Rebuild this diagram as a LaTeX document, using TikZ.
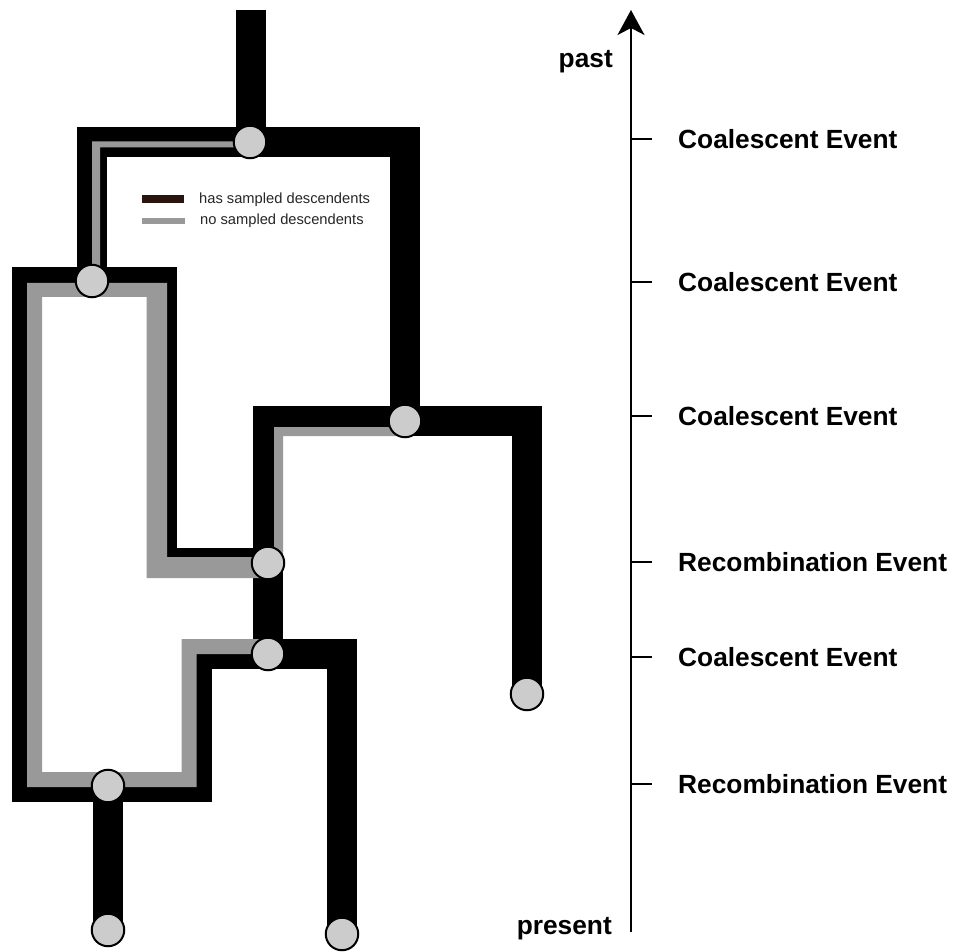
\documentclass[tikz,border=0pt]{standalone}
\usepackage{fontspec}
\setmainfont{Liberation Sans}
\usetikzlibrary{arrows.meta,backgrounds}
\definecolor{nodegray}{HTML}{CCCCCC}
\definecolor{stripegray}{HTML}{999999}
\definecolor{legendbrown}{HTML}{2A140E}
\begin{document}
\begin{tikzpicture}[x=1pt,y=-1pt,
  tube/.style={line width=30pt, line join=miter, draw=black},
  stripe/.style={fill=stripegray, draw=none},
  event/.style={circle, draw=black, line width=2pt, fill=nodegray, minimum size=32.5pt, inner sep=0pt},
  tickmark/.style={line width=2.2pt, draw=black},
  evlabel/.style={anchor=base west, font=\fontsize{26.3}{30}\selectfont\bfseries, inner sep=0pt},
  axlabel/.style={anchor=base east, font=\fontsize{26.3}{30}\selectfont\bfseries, inner sep=0pt},
  legtext/.style={anchor=base west, font=\fontsize{14.7}{17}\selectfont, inner sep=0pt, text=black!85}
]
\useasboundingbox (0,0) rectangle (954,952);

% event nodes
\node[event] (c1) at (250,142) {};
\node[event] (c2) at (92,281) {};
\node[event] (c3) at (405,421) {};
\node[event] (c4) at (268,563) {};
\node[event] (c5) at (268,654) {};
\node[event] (c6) at (108,786) {};
\node[event] (l1) at (108,930) {};
\node[event] (l2) at (342,934) {};
\node[event] (l3) at (527,694) {};
\coordinate (root) at (251,10);

\begin{scope}[on background layer]
  % black lineages
  \draw[tube] (root) -- (root |- c1.center);
  \draw[tube] (c2.center) |- (c3.center |- c1.center) -- (c3.center);
  \draw[tube] (c4.center) -- ++(-106.5,0) |- (27,282) |- (196.5,787) |- (c5.center);
  \draw[tube] (c5.center) -- (c4.center) |- (c3.center) -| (l3.center);
  \draw[tube] (c5.center) -| (l2.center);
  \draw[tube] (c6.center) -- (l1.center);
  % lineages with no sampled descendents
  \fill[stripe] (c1.center |- 0,141.5) -- (92,141.5) -- (92,281) -- (100,281) -- (100,147.5) -- (c1.center |- 0,147.5) -- cycle;
  \fill[stripe] (27,283) -- (167,283) -- (167,557) -- (268,557) -- (268,578) -- (146.5,578) -- (146.5,297) -- (42,297) -- (42,772) -- (181.5,772) -- (181.5,639) -- (268,639) -- (268,654) -- (196.5,654) -- (196.5,787) -- (27,787) -- cycle;
  \fill[stripe] (405,427) -- (274,427) -- (274,563) -- (283,563) -- (283,436) -- (405,436) -- cycle;
\end{scope}

% legend
\fill[legendbrown] (142,195) rectangle (184,203);
\fill[stripegray] (142,218.5) rectangle (185,224.5);
\node[legtext] (lg1) at (199,203.5) {has sampled descendents};
\node[legtext] (lg2) at (200,224.5) {no sampled descendents};

% time axis
\coordinate (axbot) at (631,932);
\coordinate (axtop) at (631,10);
\draw[line width=2pt, -{Stealth[length=25pt,width=27pt,inset=7pt]}] (axbot) -- (axtop);
\node[axlabel] (past) at (613,68) {past};
\node[axlabel] (present) at (612,934) {present};

\foreach \y/\t/\n in {139/Coalescent Event/e1, 282/Coalescent Event/e2, 416/Coalescent Event/e3, 562/Recombination Event/e4, 657/Coalescent Event/e5, 784/Recombination Event/e6}{
  \draw[tickmark] (631,\y) -- (652,\y);
  \node[evlabel] (\n) at (678,\y+9.5) {\t};
}
\end{tikzpicture}
\end{document}
